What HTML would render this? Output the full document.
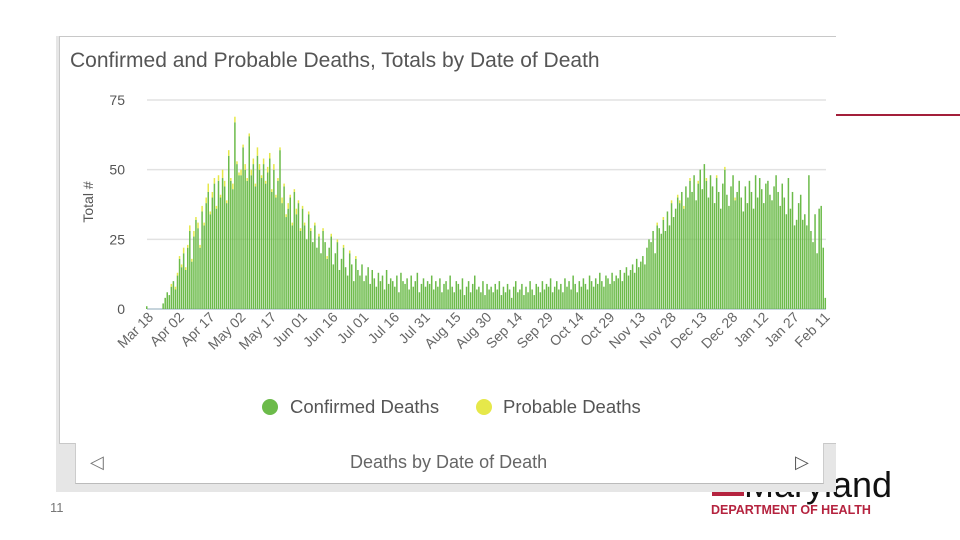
<!DOCTYPE html>
<html><head><meta charset="utf-8"><style>
body{margin:0;width:960px;height:540px;overflow:hidden;background:#fff;font-family:"Liberation Sans",sans-serif;position:relative}
.abs{position:absolute}
</style></head><body>
<div class="abs" style="left:836px;top:114px;width:124px;height:2px;background:#a31f3a"></div>
<div class="abs" style="left:712px;top:488px;width:32px;height:8px;background:#b5233f"></div>
<div class="abs" style="left:744px;top:466px;font-size:36px;color:#111;line-height:38px">Maryland</div>
<div class="abs" style="left:711px;top:503px;font-size:12.5px;font-weight:bold;color:#b5233f">DEPARTMENT OF HEALTH</div>
<div class="abs" style="left:50px;top:500px;font-size:13px;color:#777">11</div>
<div class="abs" style="left:56px;top:36px;width:780px;height:456px;background:#e6e6e6"></div>
<div class="abs" style="left:59px;top:36px;width:776px;height:406px;background:#fff;border:1px solid #c8c8c8;border-right:none"></div>
<div class="abs" style="left:75px;top:443px;width:747px;height:40px;background:#fff;border-bottom:1px solid #bbb;border-left:1px solid #ccc;border-right:1px solid #ccc"></div>
<div class="abs" style="left:350px;top:452px;font-size:18px;color:#666">Deaths by Date of Death</div>
<div class="abs" style="left:90px;top:452px;font-size:18px;color:#777">&#9665;</div>
<div class="abs" style="left:795px;top:452px;font-size:18px;color:#555">&#9655;</div>
<svg class="abs" style="left:0;top:0" width="960" height="540">
<text x="70" y="67" font-size="21" fill="#555">Confirmed and Probable Deaths, Totals by Date of Death</text>
<g id="grid"></g><g id="bars"></g><g id="xl"></g>
<text transform="translate(93,202) rotate(-90)" text-anchor="middle" font-size="14" fill="#555">Total #</text>
<circle cx="270" cy="407" r="8" fill="#6cbb4a"/>
<text x="290" y="413" font-size="18.5" fill="#555">Confirmed Deaths</text>
<circle cx="484" cy="407" r="8" fill="#e6e84a"/>
<text x="503" y="413" font-size="18.5" fill="#555">Probable Deaths</text>
</svg>
<script>
const yTicks=[0,25,50,75];
const xTickLabels=["Mar 18","Apr 02","Apr 17","May 02","May 17","Jun 01","Jun 16","Jul 01","Jul 16","Jul 31","Aug 15","Aug 30","Sep 14","Sep 29","Oct 14","Oct 29","Nov 13","Nov 28","Dec 13","Dec 28","Jan 12","Jan 27","Feb 11"];
const confMar=[1,0,0,0,0,0,0,0,2,4,6,5,8,10,7,12];
const confApr=[18,15,20,14,22,28,17,26,32,29,22,35,30,38,42,34,40,45,36,46,40,47,44,38,55,46,43,67,52,48];
const confMay=[48,58,50,46,62,48,52,44,55,50,47,52,45,49,54,42,50,40,46,57,38,44,33,36,40,30,42,34,38,28,36];
const confJun=[30,25,34,28,24,30,22,26,20,28,24,18,22,26,16,20,24,14,18,22,15,12,20,16,10,18,14,12,16,10];
const confJul=[12,15,9,14,11,8,13,10,12,7,14,9,11,10,8,12,6,13,10,9,11,7,12,8,10,13,6,9,11,8,10];
const confAug=[9,12,7,10,8,11,6,9,10,7,12,8,6,10,9,7,11,5,8,10,6,9,12,7,8,6,10,5,9,7,8];
const confSep=[6,9,7,10,5,8,6,9,7,4,8,10,6,7,9,5,8,6,10,7,5,9,8,6,10,7,9,8,11,6];
const confOct=[8,10,7,9,6,11,8,10,7,12,9,6,10,8,11,9,7,12,10,8,11,9,13,10,8,12,11,9,13,10,12];
const confNov=[11,14,10,13,15,12,14,16,13,18,15,17,19,16,22,25,24,28,20,30,29,27,32,28,35,30,38,33,36,40];
const confDec=[38,42,36,44,40,46,42,48,39,45,50,43,52,46,40,48,44,38,47,42,36,45,50,41,37,44,48,39,42,46,40];
const confJan=[35,44,38,46,42,36,48,40,47,43,38,45,46,41,39,44,48,42,37,45,40,34,47,36,42,30,32,38,41,32,34];
const confFeb=[30,48,28,24,34,20,36,37,22,4];
const probMar=[0,0,0,0,0,0,0,0,0,0,0,0,1,0,1,1];
const probApr=[1,1,2,1,1,2,1,2,1,2,1,2,1,2,3,1,2,2,1,2,1,3,2,1,2,1,2,2,1,1];
const probMay=[2,1,2,1,1,2,2,1,3,2,1,2,1,2,2,1,2,1,1,1,2,1,1,2,1,1,1,2,1,1,1];
const probJun=[1,0,1,1,0,1,0,1,0,1,0,1,0,1,0,0,1,0,0,1,0,0,1,0,0,1,0,0,0,0];
const probJul=Array(31).fill(0),probAug=Array(31).fill(0),probSep=Array(30).fill(0),probOct=Array(31).fill(0);
const probNov=[0,0,0,0,0,0,0,0,0,0,0,0,0,0,0,0,0,0,0,1,0,0,1,0,0,0,1,0,0,1];
const probDec=[1,0,1,0,0,1,0,0,0,1,0,0,0,1,0,0,0,0,1,0,0,0,1,0,0,0,0,1,0,0,0];
const probJan=Array(31).fill(0),probFeb=Array(10).fill(0);
const confirmed=[].concat(confMar,confApr,confMay,confJun,confJul,confAug,confSep,confOct,confNov,confDec,confJan,confFeb);
const probable=[].concat(probMar,probApr,probMay,probJun,probJul,probAug,probSep,probOct,probNov,probDec,probJan,probFeb);
const NS="http://www.w3.org/2000/svg";
const x0=146,dx=2.05,yb=309,yt=100,ymax=75;
const X=d=>x0+d*dx, Y=v=>yb-(v/ymax)*(yb-yt);
function mk(t,a,p){const e=document.createElementNS(NS,t);for(const k in a)e.setAttribute(k,a[k]);p.appendChild(e);return e;}
const grid=document.getElementById('grid'),bars=document.getElementById('bars'),xl=document.getElementById('xl');
yTicks.forEach(v=>{
 const l=mk('line',{x1:147,x2:826,y1:Y(v),y2:Y(v),stroke:v===0?'#c6d4dc':'#e2e2e2','stroke-width':v===0?2:1.5},grid);
 
 
 const t=mk('text',{x:125,y:Y(v)+5,'text-anchor':'end','font-size':14,fill:'#555'},grid);
 t.textContent=v;
 
 
});
confirmed.forEach((c,i)=>{
 const p=probable[i]||0;
 const b=mk('rect',{x:X(i),y:Y(c),width:1.5,height:yb-Y(c),fill:'#6cbb4a'},bars);
 
 
 if(p>0){const q=mk('rect',{x:X(i),y:Y(c+p),width:1.5,height:Y(c)-Y(c+p),fill:'#e6e84a'},bars);
 
 }
});
xTickLabels.forEach((s,k)=>{
 const d=2+k*15;
 const t=mk('text',{transform:`translate(${X(d)+4},${318}) rotate(-45)`,'text-anchor':'end','font-size':14,fill:'#666'},xl);
 t.textContent=s;
 
 
});
</script>
</body></html>
